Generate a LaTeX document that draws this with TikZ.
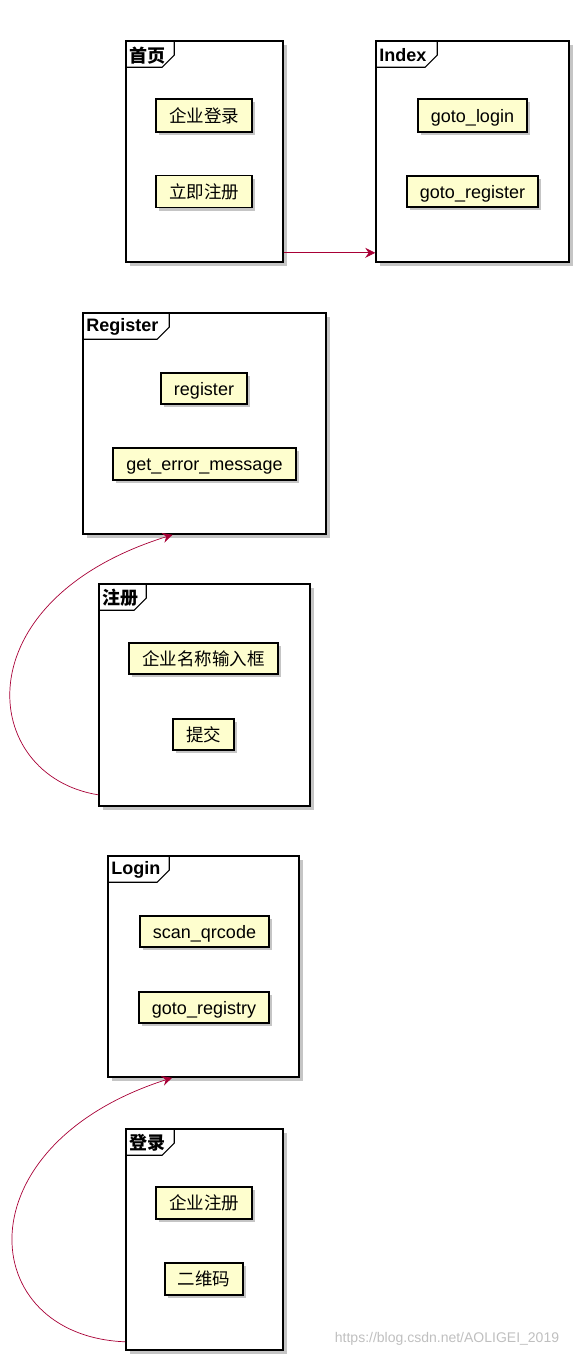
\documentclass[tikz,border=0pt]{standalone}
\usepackage{fontspec}
\setsansfont{Liberation Sans}
\newfontfamily\cjk{Noto Sans CJK SC}
\usetikzlibrary{arrows.meta}
\usetikzlibrary{shadows}
\definecolor{boxfill}{HTML}{FEFECE}
\definecolor{linkred}{HTML}{A80036}

\begin{document}
\begin{tikzpicture}[x = 1pt, y = -1pt, font=\sffamily\fontsize{18}{20}\selectfont]
	\tikzstyle{pkgStyle} = [draw, line width = 1.6pt, fill = white, inner sep = 0pt,
		drop shadow = {shadow xshift = 4pt, shadow yshift = -4pt, fill = black!45}]
	\tikzstyle{tabStyle} = [line width = 1.1pt]
	\tikzstyle{titleStyle} = [anchor = west, inner sep = 0pt, font = \sffamily\bfseries\fontsize{18}{20}\selectfont]
	\tikzstyle{itemStyle} = [draw, line width = 1.3pt, fill = boxfill, inner sep = 0pt,
		text height = 17pt, text depth = 4pt,
		drop shadow = {shadow xshift = 3pt, shadow yshift = -3pt, fill = black!45}]
	\tikzstyle{cjkItemStyle} = [itemStyle, font = \cjk\fontsize{17.5}{19}\selectfont]
	\tikzstyle{linkStyle} = [draw = linkred, line width = 0.7pt, -{Stealth[length = 10pt, width = 10pt, inset = 3.5pt]}]
	\useasboundingbox (0, 0) rectangle (581, 1363);
	% frames
	\node[pkgStyle, minimum width = 157, minimum height = 221] (home) at (204.5, 151.5) {};
	\node[pkgStyle, minimum width = 193, minimum height = 221] (index) at (472.5, 151.5) {};
	\node[pkgStyle, minimum width = 243, minimum height = 221] (register) at (204.5, 423.5) {};
	\node[pkgStyle, minimum width = 211, minimum height = 222] (signup) at (204.5, 695) {};
	\node[pkgStyle, minimum width = 191, minimum height = 221] (login) at (203.5, 966.5) {};
	\node[pkgStyle, minimum width = 157, minimum height = 221] (signin) at (204.5, 1239.5) {};
	% tabs
	\foreach \f/\w in {home/49, index/62, register/87, signup/48, login/62, signin/49}
		\draw[tabStyle] (\f.north west) ++(0, 27) -- ++(\w - 12, 0) -- ++(12, -12) -- ++(0, -15);
	\node[titleStyle] (homeTitle) at ([xshift = 4pt, yshift = -15pt]home.north west) {\cjk\bfseries 首页};
	\node[titleStyle] (indexTitle) at ([xshift = 4pt, yshift = -15pt]index.north west) {Index};
	\node[titleStyle] (registerTitle) at ([xshift = 4pt, yshift = -15pt]register.north west) {Register};
	\node[titleStyle] (signupTitle) at ([xshift = 4pt, yshift = -15pt]signup.north west) {\cjk\bfseries 注册};
	\node[titleStyle] (loginTitle) at ([xshift = 4pt, yshift = -15pt]login.north west) {Login};
	\node[titleStyle] (signinTitle) at ([xshift = 4pt, yshift = -15pt]signin.north west) {\cjk\bfseries 登录};
	% items
	\node[cjkItemStyle, minimum width = 96, minimum height = 33] (homeLogin) at (204, 115.5) {企业登录};
	\node[cjkItemStyle, minimum width = 96, minimum height = 32] (homeSignup) at (204, 191.5) {立即注册};
	\node[itemStyle, minimum width = 109, minimum height = 33] (gotoLogin) at (472.5, 115.5) {goto\_login};
	\node[itemStyle, minimum width = 131, minimum height = 31] (gotoRegister) at (472.5, 191.5) {goto\_register};
	\node[itemStyle, minimum width = 86, minimum height = 31] (doRegister) at (204, 388.5) {register};
	\node[itemStyle, minimum width = 183, minimum height = 32] (errorMsg) at (204.5, 464) {get\_error\_message};
	\node[cjkItemStyle, minimum width = 149, minimum height = 31] (nameInput) at (203.5, 658.5) {企业名称输入框};
	\node[cjkItemStyle, minimum width = 61, minimum height = 31] (submit) at (203.5, 734.5) {提交};
	\node[itemStyle, minimum width = 129, minimum height = 31] (scanCode) at (204.5, 931.5) {scan\_qrcode};
	\node[itemStyle, minimum width = 130, minimum height = 31] (gotoRegistry) at (204, 1007.5) {goto\_registry};
	\node[cjkItemStyle, minimum width = 96, minimum height = 32] (signinSignup) at (204, 1203) {企业注册};
	\node[cjkItemStyle, minimum width = 78, minimum height = 32] (qrCode) at (204, 1279) {二维码};
	% links
	\draw[linkStyle] ([yshift = 10pt]home.south east) -- ([yshift = 10pt]index.south west);
	\draw[linkStyle] ([yshift = 12pt]signup.south west) .. controls +(-119, -19) and +(-212, 66) .. ([xshift = -32pt]register.south);
	\draw[linkStyle] ([yshift = 9pt]signin.south west) .. controls +(-150, -6) and +(-212, 68) .. ([xshift = -31.5pt]login.south);
	% watermark
	\node[text = black!25, inner sep = 0pt, font = \sffamily\fontsize{14}{16}\selectfont] (mark) at (447, 1339) {https://blog.csdn.net/AOLIGEI\_2019};
\end{tikzpicture}
\end{document}
